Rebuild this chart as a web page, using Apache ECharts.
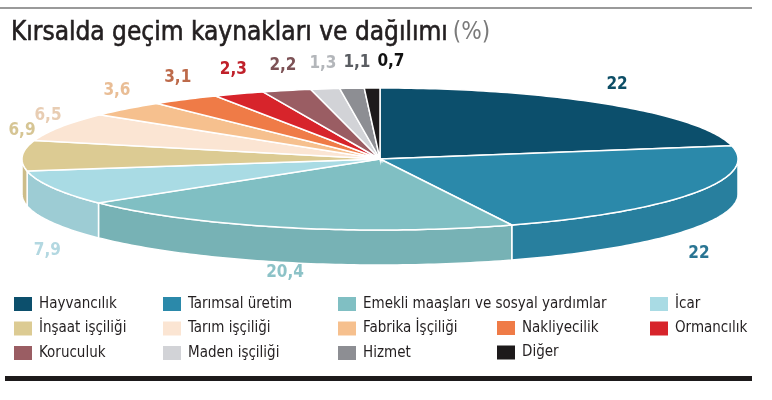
<!DOCTYPE html>
<html>
<head>
<meta charset="utf-8">
<script src="https://cdn.jsdelivr.net/npm/echarts@6/dist/echarts.min.js"></script>
<style>
  html, body { margin: 0; padding: 0; background: #fff; }
  #main { width: 772px; height: 400px; }
</style>
</head>
<body>
<div id="main"></div>
<script>
// veriler
var categories = ['Hayvancılık', 'Tarımsal üretim', 'Emekli maaşları ve sosyal yardımlar', 'İcar',
  'İnşaat işçiliği', 'Tarım işçiliği', 'Fabrika İşçiliği', 'Nakliyecilik', 'Ormancılık',
  'Koruculuk', 'Maden işçiliği', 'Hizmet', 'Diğer'];
var shares = [22, 22, 20.4, 7.9, 6.9, 6.5, 3.6, 3.1, 2.3, 2.2, 1.3, 1.1, 0.7];

// renkler
var sliceColors = ['#0c4f6c', '#2b89aa', '#80bfc3', '#a9dbe4', '#dccb93', '#fbe5d3', '#f6c08e',
  '#ef7b47', '#d7242b', '#9a5d63', '#d2d3d7', '#8d8e93', '#1d1a1b'];
var labelColors = ['#0d4e66', '#2a7593', '#8cc2c7', '#b3d8e1', '#d6c594', '#e8cdb3', '#e9bd95',
  '#bd6a4a', '#c0202a', '#7d5256', '#b3b6ba', '#5a5d62', '#111111'];

// lejant sütunları (indeksler)
var legendColumns = [[0, 4, 9], [1, 5, 10], [2, 6, 11], [7, 12], [3, 8]];

var FONT = '"Liberation Sans Narrow", "DejaVu Sans Condensed", sans-serif';
var CX = 380, CY = 159, RX = 358, RY = 71, T = 35;

var total = shares.reduce(function (a, b) { return a + b; }, 0);
var starts = [];
var acc = 0;
for (var i = 0; i < shares.length; i++) { starts.push(acc / total * Math.PI * 2); acc += shares[i]; }

// etiket konumları
var labelPos = shares.map(function (v, idx) {
  var m = starts[idx] + v / total * Math.PI;
  var lx, ly, top = Math.cos(m) >= 0;
  if (top) {
    lx = CX + 372 * Math.sin(m);
    ly = CY - Math.max(97 * Math.cos(m), 28);
  } else {
    lx = CX + 364 * Math.sin(m);
    ly = CY + T + 40 - 40 * Math.cos(m);
  }
  return { x: Math.min(Math.max(lx, 22), 750), y: ly, top: top };
});
// üst sıradaki etiketler üst üste binmesin
for (var j = 1; j < labelPos.length; j++) {
  var p = labelPos[j - 1], q = labelPos[j];
  if (p.top && q.top && Math.abs(p.y - q.y) < 12 && q.x < p.x + 34) q.x = p.x + 34;
}

function arc(a0, a1, dy) {
  var n = Math.max(2, Math.ceil((a1 - a0) / (Math.PI / 180)));
  var pts = [];
  for (var k = 0; k <= n; k++) {
    var t = a0 + (a1 - a0) * k / n;
    pts.push([CX + RX * Math.sin(t), CY - RY * Math.cos(t) + dy]);
  }
  return pts;
}

function darken(hex, f) {
  var c = echarts.color.parse(hex);
  return 'rgb(' + Math.round(c[0] * f) + ',' + Math.round(c[1] * f) + ',' + Math.round(c[2] * f) + ')';
}

function makeRender(idx) {
  return function (params, api) {
    var a0 = starts[idx];
    var a1 = a0 + api.value(0) / total * Math.PI * 2;
    var children = [];
    // yan yüz (sadece ön taraf)
    var s = Math.max(a0, Math.PI / 2), e = Math.min(a1, Math.PI * 1.5);
    if (s < e) {
      children.push({
        type: 'polygon', z2: 0,
        shape: { points: arc(s, e, 0).concat(arc(s, e, T).reverse()) },
        style: { fill: darken(sliceColors[idx], 0.93), stroke: '#fff', lineWidth: 1.5 }
      });
    }
    // üst yüz
    children.push({
      type: 'polygon', z2: 10,
      shape: { points: [[CX, CY]].concat(arc(a0, a1, 0)) },
      style: { fill: sliceColors[idx], stroke: '#fff', lineWidth: 1.5 }
    });
    // etiket
    children.push({
      type: 'text', z2: 20, x: labelPos[idx].x, y: labelPos[idx].y,
      style: {
        text: String(api.value(0)).replace('.', ','),
        fill: labelColors[idx], font: 'bold 17px ' + FONT,
        align: 'center', verticalAlign: 'middle'
      }
    });
    return { type: 'group', children: children };
  };
}

var series = categories.map(function (name, idx) {
  return {
    type: 'custom',
    name: name,
    coordinateSystem: 'none',
    itemStyle: { color: sliceColors[idx] },
    data: [[shares[idx]]],
    renderItem: makeRender(idx)
  };
});

var colLeft = [9, 158, 333, 492, 645];
var colTop = [291, 291, 291, 315, 291];
var legends = legendColumns.map(function (col, c) {
  return {
    orient: 'vertical',
    left: colLeft[c], top: colTop[c],
    icon: 'rect', itemWidth: 18, itemHeight: 14, itemGap: 8.5,
    selectedMode: false,
    data: col.map(function (k) { return categories[k]; }),
    textStyle: { fontFamily: FONT, fontSize: 15, lineHeight: 16, color: '#231f20', padding: [0, 0, 0, 2] }
  };
});

var chart = echarts.init(document.getElementById('main'));
chart.setOption({
  animation: false,
  title: {
    left: 6, top: 15,
    text: '{a|Kırsalda geçim kaynakları ve dağılımı} {b|(%)}',
    textStyle: {
      rich: {
        a: { fontFamily: FONT, fontSize: 26, fontWeight: 'normal', color: '#231f20',
             textBorderColor: '#231f20', textBorderWidth: 0.6 },
        b: { fontFamily: FONT, fontSize: 24, fontWeight: 'normal', color: '#7a7a7a' }
      }
    }
  },
  graphic: [
    { type: 'rect', left: 0, top: 7, shape: { width: 752, height: 2 }, style: { fill: '#9a9a9a' } },
    { type: 'rect', left: 5, top: 376, shape: { width: 747, height: 5 }, style: { fill: '#1d1a1b' } }
  ],
  legend: legends,
  series: series
});
</script>
</body>
</html>
